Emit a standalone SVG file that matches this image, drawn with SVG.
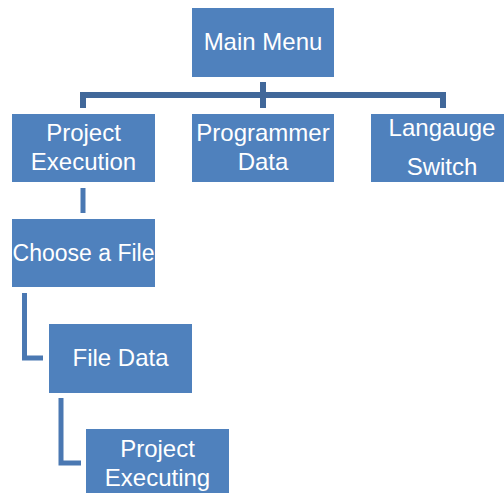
<svg xmlns="http://www.w3.org/2000/svg" width="504" height="493" viewBox="0 0 504 493">
<style>
.box{fill:#4F81BD}
.t{font-family:"Liberation Sans",Arial,sans-serif;font-size:24px;fill:#fff;text-anchor:middle}
.c1{fill:none;stroke:#41689A;stroke-width:6}
.c2{fill:none;stroke:#4A78B2;stroke-width:5}
</style>
<rect width="504" height="493" fill="#fff"/>
<g id="connectors">
<path class="c1" d="M263 82V108M83 108V95H443V108"/>
<path class="c2" d="M83 188V213"/>
<path class="c2" d="M24.5 293V358H43"/>
<path class="c2" d="M61 398V463H81"/>
</g>
<g id="main-menu"><rect class="box" x="192" y="8" width="142" height="69"/><text class="t" x="263" y="50">Main Menu</text></g>
<g id="project-execution"><rect class="box" x="12" y="114" width="143" height="68"/><text class="t" x="83.5" y="141">Project</text><text class="t" x="83.5" y="170">Execution</text></g>
<g id="programmer-data"><rect class="box" x="192" y="114" width="142" height="68"/><text class="t" x="263" y="141">Programmer</text><text class="t" x="263" y="170">Data</text></g>
<g id="language-switch"><rect class="box" x="371" y="114" width="133" height="68"/><text class="t" x="442" y="136">Langauge</text><text class="t" x="442" y="175">Switch</text></g>
<g id="choose-file"><rect class="box" x="12" y="219" width="143" height="68"/><text class="t" x="83.5" y="261" style="font-size:23px">Choose a File</text></g>
<g id="file-data"><rect class="box" x="49" y="324" width="143" height="69"/><text class="t" x="120.5" y="366">File Data</text></g>
<g id="project-executing"><rect class="box" x="86" y="429" width="143" height="64"/><text class="t" x="157.5" y="457">Project</text><text class="t" x="157.5" y="486">Executing</text></g>
</svg>
